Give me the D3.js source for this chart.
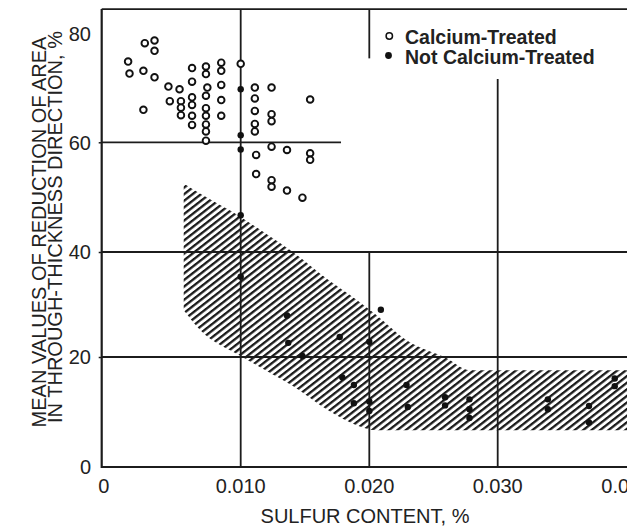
<!DOCTYPE html>
<html><head><meta charset="utf-8">
<script src="https://cdn.jsdelivr.net/npm/d3@7"></script>
<style>
html,body{margin:0;padding:0;background:#fff;}
svg{display:block;}
text{font-family:"Liberation Sans",Arial,Helvetica,sans-serif;fill:#222;}
</style></head>
<body>
<svg id="chart" width="627" height="527"></svg>
<script>
// ---- data ----
const xTicks = [0, 0.010, 0.020, 0.030, 0.040];
const xTickLabels = ["0", "0.010", "0.020", "0.030", "0.040"];
const yTicks = [0, 20, 40, 60, 80];
const yTickLabels = ["0", "20", "40", "60", "80"];

// Calcium-treated (open circles)
const caS = [0.0031,0.0038,0.0038,0.0019,0.0020,0.0030,0.0038,0.0030,
  0.0048,0.0049,0.0056,0.0057,0.0057,0.0057,
  0.0065,0.0065,0.0065,0.0065,0.0065,0.0065,
  0.0075,0.0075,0.0076,0.0075,0.0075,0.0075,0.0075,0.0075,0.0075,
  0.0086,0.0086,0.0086,0.0086,0.0086,
  0.0100,
  0.0111,0.0124,0.0111,0.0111,0.0111,0.0111,0.0124,0.0124,
  0.0154,0.0124,0.0112,0.0136,0.0154,0.0154,
  0.0112,0.0124,0.0124,0.0136,0.0148];
const caRA = [78.3,78.8,76.9,74.9,72.7,73.2,72.0,66.0,
  70.3,67.6,69.8,67.6,66.4,65.0,
  73.7,71.2,68.3,66.9,64.9,63.2,
  74.0,72.6,70.1,68.6,66.3,64.9,63.3,62.0,60.3,
  74.7,73.2,70.6,67.8,64.9,
  74.5,
  70.1,70.1,68.1,65.8,63.4,62.0,65.2,63.9,
  67.9,59.2,57.7,58.6,58.0,56.8,
  54.2,53.1,51.9,51.2,49.9];

// Not calcium-treated (filled circles)
const ncS = [0.0100,0.0100,0.0100,0.0100,0.0100,
  0.0136,0.0137,0.0148,0.0177,0.0179,0.0188,0.0188,
  0.0209,0.0200,0.0200,0.0200,
  0.0229,0.0230,0.0259,0.0259,
  0.0278,0.0278,0.0278,
  0.0339,0.0339,0.0371,0.0371,0.0391,0.0391];
const ncRA = [69.8,61.3,58.7,46.7,35.3,
  27.9,22.7,20.2,23.8,16.3,14.9,11.6,
  29.0,22.9,11.9,10.2,
  14.9,10.9,12.7,11.2,
  12.3,10.5,8.9,
  12.3,10.5,11.1,8.1,16.1,14.7];

// Hatched scatter band for non-treated steels
const bandS   = [0.0059,0.0071,0.0100,0.0120,0.0140,0.0168,0.0190,0.0205,0.0229,0.0260,0.0278,0.0300,0.0420];
const bandTop = [52.5, 50.6, 46.4, 43.3, 40.1, 34.7, 30.9, 28.1, 23.2, 19.8, 17.6, 17.6, 17.6];
const bandBot = [28.9, 25.1, 20.2, 17.5, 14.8, 10.3, 7.6, 6.7, 6.7, 6.7, 6.7, 6.7, 6.7];

// grid segments in data units: [x, yFrom, yTo] and [y, xFrom, xTo]
const vGrid = [[0.010, 0, 84.6], [0.020, 0, 40], [0.020, 75.5, 84.6], [0.030, 0, 71.7]];
const hGrid = [[60, 0, 0.0178], [40, 0, 0.042], [20, 0, 0.042]];

const legendLabels = ["Calcium-Treated", "Not Calcium-Treated"];
const xTitle = "SULFUR CONTENT, %";
const yTitle = ["MEAN VALUES OF REDUCTION OF AREA", "IN THROUGH-THICKNESS DIRECTION, %"];

// ---- scales (scanned original is slightly non-uniform) ----
const x = d3.scaleLinear().domain(xTicks).range([101.7, 240.7, 369.3, 497.7, 626.3]);
const y = d3.scaleLinear().domain(yTicks).range([467, 357, 252, 142.3, 34]);
const yTop = 84.6;

const svg = d3.select("#chart");
const ink = "#1c1c1c";

// pattern
const defs = svg.append("defs");
const pat = defs.append("pattern").attr("id", "hatch")
  .attr("patternUnits", "userSpaceOnUse").attr("width", 5.2).attr("height", 10)
  .attr("patternTransform", "rotate(52)");
pat.append("rect").attr("x", 0).attr("y", 0).attr("width", 2.3).attr("height", 10).attr("fill", "#1a1a1a");
defs.append("clipPath").attr("id", "plotclip").append("rect")
  .attr("x", x(0)).attr("y", y(yTop)).attr("width", 627 - x(0)).attr("height", y(0) - y(yTop));

// band
const area = d3.area().x((d, i) => x(bandS[i])).y0((d, i) => y(bandBot[i])).y1((d, i) => y(bandTop[i]))
  .curve(d3.curveMonotoneX);
svg.append("path").attr("d", area(bandS)).attr("fill", "url(#hatch)").attr("clip-path", "url(#plotclip)");

// grid
const g = svg.append("g").attr("stroke", ink).attr("stroke-width", 1.8).attr("fill", "none");
vGrid.forEach(s => g.append("line").attr("x1", x(s[0])).attr("x2", x(s[0])).attr("y1", y(s[1])).attr("y2", y(s[2])));
hGrid.forEach(s => g.append("line").attr("y1", y(s[0])).attr("y2", y(s[0])).attr("x1", x(s[1])).attr("x2", Math.min(627, x(s[2]))));

// frame / axes
const yAxis = d3.axisLeft(y).tickValues([20, 40, 60]).tickSize(3).tickFormat("");
svg.append("g").attr("transform", `translate(${x(0)},0)`).call(yAxis)
  .call(a => a.select(".domain").remove())
  .selectAll("line").attr("stroke", ink).attr("stroke-width", 1.5);
svg.append("line").attr("x1", x(0)).attr("x2", x(0)).attr("y1", y(yTop)).attr("y2", y(0) + 1)
  .attr("stroke", ink).attr("stroke-width", 2.2);
svg.append("line").attr("x1", x(0)).attr("x2", 627).attr("y1", y(0)).attr("y2", y(0))
  .attr("stroke", ink).attr("stroke-width", 2.2);
svg.append("line").attr("x1", x(0)).attr("x2", 627).attr("y1", y(yTop)).attr("y2", y(yTop))
  .attr("stroke", ink).attr("stroke-width", 1.6);

// tick labels
svg.append("g").selectAll("text").data(yTicks).join("text")
  .attr("x", 91).attr("y", d => y(d)).attr("dy", "0.36em").attr("text-anchor", "end")
  .attr("font-size", 20).text((d, i) => yTickLabels[i]);
svg.append("g").selectAll("text").data(xTicks).join("text")
  .attr("x", (d, i) => x(d) + (i === 0 ? 2 : 0)).attr("y", 493).attr("text-anchor", "middle")
  .attr("font-size", 20).text((d, i) => xTickLabels[i]);

// titles
svg.append("text").attr("x", 365).attr("y", 523).attr("text-anchor", "middle").attr("font-size", 20).text(xTitle);
yTitle.forEach((t, i) => {
  svg.append("text").attr("transform", `translate(${[45.5, 61.8][i]},${[232, 227][i]}) rotate(-90)`)
    .attr("text-anchor", "middle").attr("font-size", 20).text(t);
});

// points
svg.append("g").selectAll("circle").data(caS).join("circle")
  .attr("cx", d => x(d)).attr("cy", (d, i) => y(caRA[i])).attr("r", 3.3)
  .attr("fill", "#fff").attr("stroke", "#111").attr("stroke-width", 1.9);
svg.append("g").selectAll("circle").data(ncS).join("circle")
  .attr("cx", d => x(d)).attr("cy", (d, i) => y(ncRA[i])).attr("r", 3.2)
  .attr("fill", "#111");

// legend
const lg = svg.append("g");
lg.append("circle").attr("cx", 389.3).attr("cy", 36).attr("r", 3.2).attr("fill", "#fff").attr("stroke", "#111").attr("stroke-width", 1.5);
lg.append("circle").attr("cx", 388.5).attr("cy", 55.5).attr("r", 3.4).attr("fill", "#111");
legendLabels.forEach((t, i) => lg.append("text").attr("x", 405).attr("y", 43.5 + i * 20)
  .attr("font-size", 19.5).attr("font-weight", "bold").text(t));
</script>
</body></html>
